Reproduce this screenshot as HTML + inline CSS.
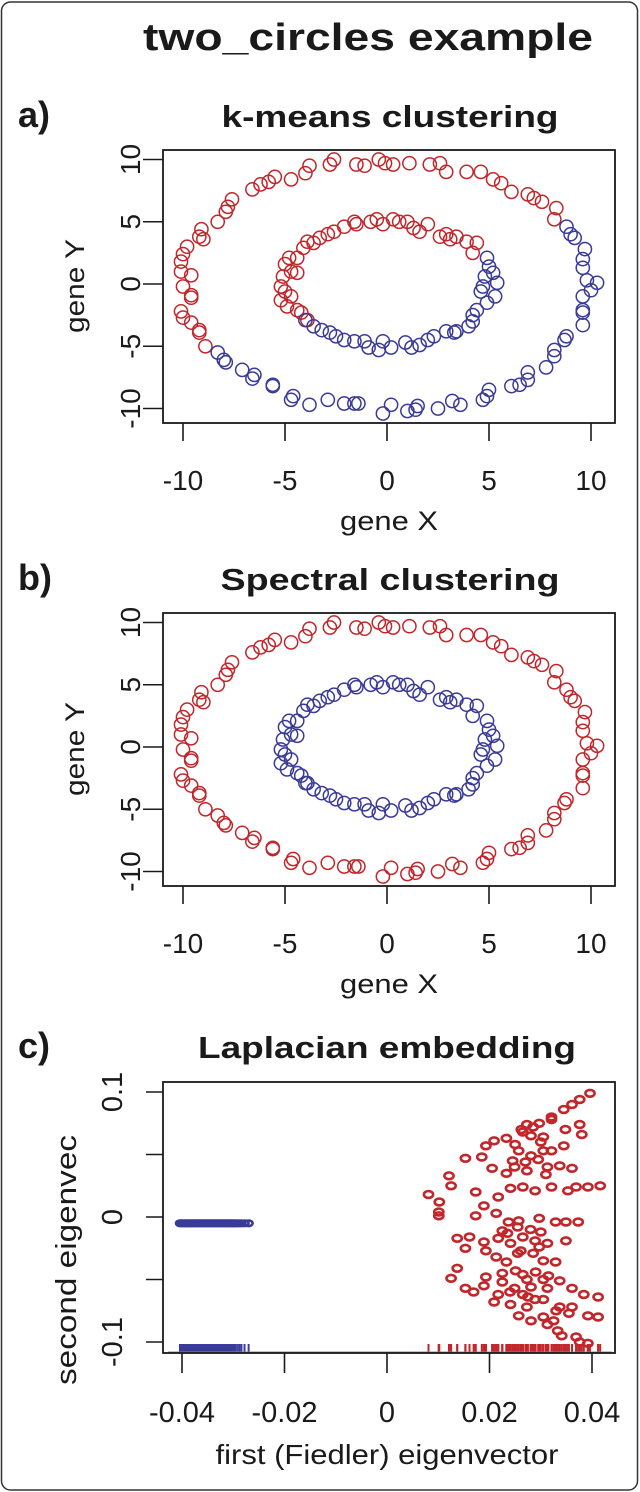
<!DOCTYPE html>
<html><head><meta charset="utf-8"><style>
html,body{margin:0;padding:0;background:#fff;}
svg{display:block;font-family:"Liberation Sans",Arial,sans-serif;}
</style></head><body>
<svg id="fig" width="640" height="1492" viewBox="0 0 640 1492" xmlns="http://www.w3.org/2000/svg">
<rect x="1.5" y="2" width="636" height="1488" rx="9" fill="#fff" stroke="#333" stroke-width="1.5"/>
<text x="368" y="50" text-anchor="middle" font-size="38" font-weight="bold" textLength="450" lengthAdjust="spacingAndGlyphs" fill="#1a1a1a">two_circles example</text>
<g id="plots"></g>
</svg>
<script>
// ring data (gene X, gene Y)
const outerX=[-2.6,-2.8,-3.8,-4.0,-4.7,-5.5,-5.8,-6.2,-6.6,-7.6,-7.8,-7.9,-8.3,-9.1,-9.2,-9.0,-9.8,-10.0,-10.1,-10.1,-9.6,-10.0,-9.6,-9.6,-10.1,-10.0,-9.6,-9.2,-9.2,-8.9,
-1.5,-1.1,-0.4,-0.1,0.3,1.1,2.1,2.6,2.9,3.9,4.6,5.2,5.6,6.1,6.9,7.2,7.6,8.3,8.2,
8.8,9.0,9.2,9.7,9.6,9.6,9.8,10.3,10.0,9.6,9.6,9.6,9.6,8.8,8.7,8.2,8.2,7.8,6.9,6.9,6.5,6.1,5.0,4.7,4.9,3.6,3.2,2.5,1.5,1.4,1.0,0.2,-0.2,-1.4,-1.6,-2.1,-2.9,-3.8,-4.6,-4.7,-5.6,-5.6,-6.6,-6.5,-7.1,-7.9,-8.0,-8.3];
const outerY=[10.0,9.6,9.5,8.9,8.4,8.6,8.2,8.0,7.6,6.8,6.2,5.8,5.0,4.4,3.8,3.6,3.0,2.4,1.8,1.0,0.7,-0.2,-0.9,-1.1,-2.2,-2.7,-3.1,-3.7,-3.9,-5.0,
9.6,9.5,10.0,9.7,9.6,9.7,9.6,9.7,9.0,9.0,9.0,8.4,8.1,7.4,7.2,6.9,6.6,6.1,5.2,
4.6,4.0,3.7,2.8,2.0,1.3,0.3,0.1,-0.5,-1.0,-2.1,-2.3,-3.3,-4.2,-4.5,-5.3,-5.8,-6.7,-7.1,-7.7,-8.1,-8.2,-8.5,-9.3,-9.0,-9.7,-9.4,-10.0,-9.8,-10.1,-10.2,-9.7,-10.4,-9.6,-9.6,-9.6,-9.3,-9.7,-9.0,-9.3,-8.2,-8.1,-7.6,-7.3,-6.9,-6.3,-6.1,-5.5];
const outerKm=[1,1,1,1,1,1,1,1,1,1,1,1,1,1,1,1,1,1,1,1,1,1,1,1,1,1,1,1,1,1,1,1,1,1,1,1,1,1,1,1,1,1,1,1,1,1,1,1,1,
2,2,2,2,2,2,2,2,2,2,2,2,2,2,2,2,2,2,2,2,2,2,2,2,2,2,2,2,2,2,2,2,2,2,2,2,2,2,2,2,2,2,2,2,2,2,2,2];
const innerX=[4.4,3.9,3.4,3.1,2.9,2.6,2.0,1.6,1.3,1.0,0.6,0.3,-0.2,-0.5,-0.8,-1.5,-1.6,-2.1,-2.6,-2.9,-3.3,-3.6,-3.9,-4.1,-4.4,-4.8,-5.0,-4.7,-5.1,-4.4,-5.2,-5.0,-4.7,-5.2,-4.9,-4.4,-4.2,-3.9,4.2,
4.9,5.0,5.2,4.8,5.4,4.7,4.6,5.3,4.9,4.4,4.2,4.2,4.0,3.4,3.3,2.9,2.3,2.0,1.6,1.2,0.9,0.2,-0.2,-0.4,-0.9,-1.1,-1.6,-2.1,-2.5,-2.8,-3.2,-3.6,-4.0];
const innerY=[3.3,3.4,3.8,3.6,4.0,3.8,4.8,4.2,4.5,5.0,5.0,5.2,4.8,5.2,5.0,4.8,5.0,4.6,4.2,4.0,3.7,3.3,3.4,2.9,2.1,2.1,1.6,1.0,0.6,0.9,-0.2,-0.6,-1.0,-1.3,-1.8,-2.1,-2.3,-2.9,2.5,
2.1,1.4,0.9,0.6,0.1,-0.2,-0.6,-1.0,-1.5,-2.1,-2.5,-3.0,-3.4,-3.8,-3.9,-3.8,-4.2,-4.5,-4.9,-5.1,-4.7,-5.1,-4.6,-5.3,-5.1,-4.6,-4.6,-4.5,-4.2,-3.9,-3.7,-3.4,-2.9];
const innerKm=[1,1,1,1,1,1,1,1,1,1,1,1,1,1,1,1,1,1,1,1,1,1,1,1,1,1,1,1,1,1,1,1,1,1,1,1,1,1,1,
2,2,2,2,2,2,2,2,2,2,2,2,2,2,2,2,2,2,2,2,2,2,2,2,2,2,2,2,2,2,2,2,2];
const ringTicks=[-10,-5,0,5,10];
const ringTickLabels=["-10","-5","0","5","10"];
// Laplacian embedding data
const redEX=[0.0081,0.0102,0.0101,0.0101,0.0121,0.0125,0.0153,0.0185,0.0173,0.0189,0.0173,0.0213,0.0217,0.0193,0.0209,0.0233,0.0205,0.0233,0.0249,0.0273,0.0241,0.0265,0.0289,0.0321,0.0353,0.0369,0.0392,0.0416,0.0257,0.0281,0.0305,0.0321,0.0345,0.0313,0.0337,0.0361,0.0273,0.0297,0.0321,0.0281,0.0305,0.0321,0.0345,0.0361,0.0376,0.0396,0.0348,0.0376,0.0380,0.0265,0.0237,0.0225,0.0257,0.0297,0.0329,0.0349,0.0373,0.0137,0.0161,0.0189,0.0153,0.0193,0.0217,0.0241,0.0265,0.0289,0.0313,0.0349,0.0261,0.0297,0.0213,0.0233,0.0305,0.0329,0.0137,0.0125,0.0193,0.0225,0.0251,0.0273,0.0305,0.0337,0.0153,0.0169,0.0189,0.0217,0.0249,0.0281,0.0313,0.0361,0.0384,0.0412,0.0209,0.0241,0.0273,0.0305,0.0337,0.0361,0.0392,0.0412,0.0257,0.0281,0.0305,0.0313,0.0333,0.0341,0.0369,0.0392,0.0376,0.0225,0.0265,0.0289,
0.0250,0.0262,0.0285,0.0300,0.0245,0.0270,0.0295,0.0310,0.0255,0.0280,0.0300,0.0265,0.0290,0.0315,0.0240,0.0275,0.0330,0.0355,0.0235,0.0255,0.0285,0.0325];
const redEY=[0.018,0.012,0.004,0.001,0.033,0.025,0.047,0.048,0.020,0.009,0.001,0.003,0.016,0.057,0.061,0.063,0.039,0.035,0.040,0.037,0.023,0.024,0.021,0.024,0.021,0.024,0.024,0.025,0.053,0.049,0.053,0.053,0.057,0.040,0.041,0.039,0.074,0.075,0.078,0.065,0.064,0.080,0.086,0.090,0.094,0.099,0.070,0.074,0.066,0.068,-0.004,-0.011,-0.003,-0.001,-0.004,-0.004,-0.004,-0.017,-0.016,-0.020,-0.025,-0.027,-0.017,-0.021,-0.016,-0.019,-0.021,-0.019,-0.027,-0.024,-0.032,-0.036,-0.035,-0.036,-0.041,-0.049,-0.048,-0.045,-0.043,-0.050,-0.050,-0.051,-0.057,-0.060,-0.055,-0.062,-0.057,-0.056,-0.057,-0.057,-0.062,-0.064,-0.068,-0.070,-0.072,-0.066,-0.072,-0.072,-0.079,-0.080,-0.079,-0.083,-0.080,-0.086,-0.091,-0.095,-0.096,-0.101,-0.100,-0.052,-0.062,-0.066,
0.058,0.070,0.072,0.060,0.045,0.044,0.046,0.034,-0.008,-0.010,-0.012,-0.046,-0.044,-0.047,-0.060,-0.064,-0.075,-0.077,-0.013,-0.029,-0.029,-0.083];
const blueEX=[-0.0404,-0.0401,-0.0398,-0.0395,-0.0392,-0.0389,-0.0386,-0.0383,-0.0380,-0.0377,-0.0374,-0.0371,-0.0368,-0.0365,-0.0362,-0.0359,-0.0356,-0.0353,-0.0350,-0.0347,-0.0344,-0.0341,-0.0338,-0.0335,-0.0332,-0.0329,-0.0326,-0.0323,-0.0320,-0.0317,-0.0314,-0.0311,-0.0308,-0.0305,-0.0302,-0.0299,-0.0296,-0.0292,-0.0288,-0.0284,-0.0278,-0.0270];
const blueEY=[-0.005,-0.005,-0.005,-0.005,-0.005,-0.005,-0.005,-0.005,-0.005,-0.005,-0.005,-0.005,-0.005,-0.005,-0.005,-0.005,-0.005,-0.005,-0.005,-0.005,-0.005,-0.005,-0.005,-0.005,-0.005,-0.005,-0.005,-0.005,-0.005,-0.005,-0.005,-0.005,-0.005,-0.005,-0.005,-0.005,-0.005,-0.005,-0.005,-0.005,-0.005,-0.005];
const embXTicks=[-0.04,-0.02,0,0.02,0.04];
const embXTickLabels=["-0.04","-0.02","0","0.02","0.04"];
const embYTicks=[-0.1,-0.05,0,0.05,0.1];
const embYTickLabels=["-0.1","","0","","0.1"];

const NS="http://www.w3.org/2000/svg";
const RED="#c2262b", BLUE="#3a3a98";
const root=document.getElementById('plots');
function mk(tag,attrs,parent){const e=document.createElementNS(NS,tag);for(const k in attrs)e.setAttribute(k,attrs[k]);(parent||root).appendChild(e);return e;}
function txt(s,attrs,parent){const e=mk('text',attrs,parent);e.textContent=s;return e;}

function ringPanel(off,letter,title,tlen,mode){
  const g=mk('g',{});
  
  
  const sx=v=>387+v*20.4, sy=v=>284+off-v*12.45;
  const l=txt(letter+')',{x:18,y:127+off,'font-size':36,'font-weight':'bold',fill:'#1a1a1a'},g);
  
  
  const t=txt(title,{x:390,y:127+off,'text-anchor':'middle','font-size':31,'font-weight':'bold',textLength:tlen,lengthAdjust:'spacingAndGlyphs',fill:'#1a1a1a'},g);
  
  
  const pts=mk('g',{fill:'none','stroke-width':1.5},g);
  
  
  const draw=(X,Y,K,ring)=>{for(let i=0;i<X.length;i++){
    const col = mode==='km' ? (K[i]===1?RED:BLUE) : (ring==='outer'?RED:BLUE);
    const c=mk('circle',{cx:sx(X[i]).toFixed(1),cy:sy(Y[i]).toFixed(1),r:6.6,stroke:col},pts);
    
    
  }};
  draw(outerX,outerY,outerKm,'outer');
  draw(innerX,innerY,innerKm,'inner');
  const box=mk('rect',{x:163,y:150+off,width:452,height:273,fill:'none',stroke:'#1a1a1a','stroke-width':1.8},g);
  
  
  ringTicks.forEach((v,i)=>{
    const a=mk('line',{x1:sx(v),x2:sx(v),y1:423+off,y2:441+off,stroke:'#1a1a1a','stroke-width':1.6},g);
    
    
    const b=txt(ringTickLabels[i],{x:sx(v),y:490+off,'text-anchor':'middle','font-size':28,fill:'#1a1a1a'},g);
    
    
    const c=mk('line',{x1:143,x2:163,y1:sy(v),y2:sy(v),stroke:'#1a1a1a','stroke-width':1.6},g);
    
    
    const d=txt(ringTickLabels[i],{x:0,y:0,'text-anchor':'middle','font-size':28,fill:'#1a1a1a',transform:`translate(140,${sy(v)}) rotate(-90)`},g);
    
    
  });
  const xl=txt('gene X',{x:389,y:530+off,'text-anchor':'middle','font-size':27,textLength:98,lengthAdjust:'spacingAndGlyphs',fill:'#1a1a1a'},g);
  
  
  const yl=txt('gene Y',{x:0,y:0,'text-anchor':'middle','font-size':27,textLength:94,lengthAdjust:'spacingAndGlyphs',fill:'#1a1a1a',transform:`translate(84,${286+off}) rotate(-90)`},g);
  
  
}
ringPanel(0,'a','k-means clustering',337,'km');
ringPanel(463,'b','Spectral clustering',339,'sp');

// panel c
(function(){
  const g=mk('g',{});
  
  
  const sx=v=>387+v*5125, sy=v=>1217-v*1250;
  const l=txt('c)',{x:18,y:1058,'font-size':36,'font-weight':'bold',fill:'#1a1a1a'},g);
  
  
  const t=txt('Laplacian embedding',{x:387,y:1058,'text-anchor':'middle','font-size':31,'font-weight':'bold',textLength:378,lengthAdjust:'spacingAndGlyphs',fill:'#1a1a1a'},g);
  
  
  const pts=mk('g',{fill:'none','stroke-width':2.6},g);
  
  
  for(let i=0;i<blueEX.length;i++){
    const e=mk('ellipse',{cx:sx(blueEX[i]).toFixed(1),cy:sy(blueEY[i]).toFixed(1),rx:4,ry:2.8,stroke:BLUE},pts);
    
    
  }
  for(let i=0;i<redEX.length;i++){
    const e=mk('ellipse',{cx:sx(redEX[i]).toFixed(1),cy:sy(redEY[i]).toFixed(1),rx:4.6,ry:3.4,stroke:RED},pts);
    
    
  }
  const rug=mk('g',{'stroke-width':2},g);
  
  
  blueEX.forEach(v=>{const r=mk('line',{x1:sx(v),x2:sx(v),y1:1344,y2:1352,stroke:BLUE},rug);
    
    });
  redEX.forEach(v=>{const r=mk('line',{x1:sx(v),x2:sx(v),y1:1344,y2:1352,stroke:RED},rug);
    
    });
  const base=mk('line',{x1:168,x2:612,y1:1352,y2:1352,stroke:'#888','stroke-width':1},g);
  
  
  const box=mk('rect',{x:163,y:1082,width:452,height:271,fill:'none',stroke:'#1a1a1a','stroke-width':1.8},g);
  
  
  embXTicks.forEach((v,i)=>{
    const a=mk('line',{x1:sx(v),x2:sx(v),y1:1353,y2:1373,stroke:'#1a1a1a','stroke-width':1.6},g);
    
    
    const b=txt(embXTickLabels[i],{x:sx(v),y:1422,'text-anchor':'middle','font-size':29,fill:'#1a1a1a'},g);
    
    
  });
  embYTicks.forEach((v,i)=>{
    const c=mk('line',{x1:146,x2:163,y1:sy(v),y2:sy(v),stroke:'#1a1a1a','stroke-width':1.6},g);
    
    
    if(embYTickLabels[i]){
      const d=txt(embYTickLabels[i],{x:0,y:0,'text-anchor':'middle','font-size':29,fill:'#1a1a1a',transform:`translate(122,${sy(v)}) rotate(-90)`},g);
      
      
    }
  });
  const xl=txt('first (Fiedler) eigenvector',{x:387,y:1464,'text-anchor':'middle','font-size':28,textLength:343,lengthAdjust:'spacingAndGlyphs',fill:'#1a1a1a'},g);
  
  
  const yl=txt('second eigenvec',{x:0,y:0,'text-anchor':'middle','font-size':29,textLength:250,lengthAdjust:'spacingAndGlyphs',fill:'#1a1a1a',transform:'translate(76,1260) rotate(-90)'},g);
  
  
})();
</script>
</body></html>
